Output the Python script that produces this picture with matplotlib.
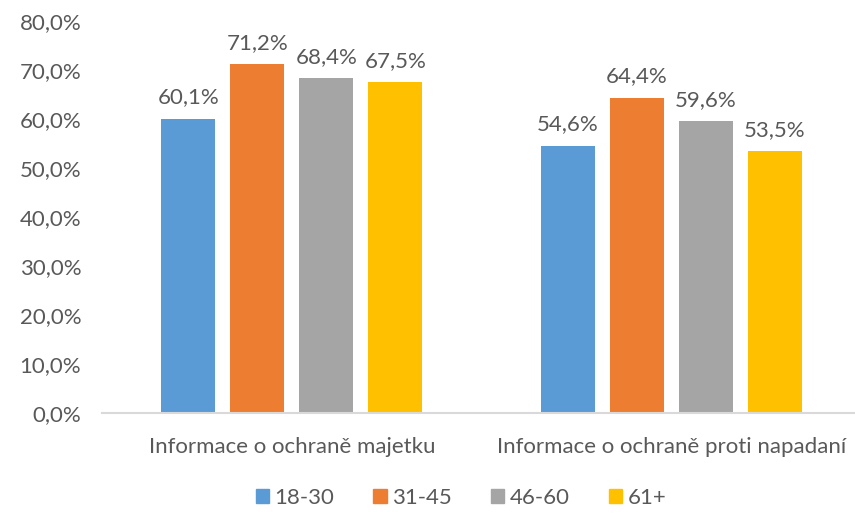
import matplotlib
matplotlib.use("Agg")
import matplotlib.pyplot as plt
from matplotlib.patches import Patch
import numpy as np

categories = ["Informace o ochraně majetku", "Informace o ochraně proti napadaní"]
series_names = ["18-30", "31-45", "46-60", "61+"]
values = {
    "18-30": [60.1, 54.6],
    "31-45": [71.2, 64.4],
    "46-60": [68.4, 59.6],
    "61+": [67.5, 53.5],
}
colors = ["#5B9BD5", "#ED7D31", "#A5A5A5", "#FFC000"]
yticks = [0, 10, 20, 30, 40, 50, 60, 70, 80]

plt.rcParams['font.family'] = ['Lato', 'DejaVu Sans']
txt = "#595959"
fs = 16

fig = plt.figure(figsize=(8.55, 5.15), dpi=100)
ax = fig.add_axes([102 / 855, 0.198, 759 / 855, 0.761])

x = np.arange(len(categories))
width = 0.142
step = 0.182
for i, name in enumerate(series_names):
    offs = (i - 1.5) * step
    ax.bar(x + offs, values[name], width=width, color=colors[i], zorder=2)
    for xi, v in zip(x + offs, values[name]):
        ax.annotate(f"{v:.1f}%".replace(".", ","), (xi, v), xytext=(0, 8),
                    textcoords="offset points", ha="center", va="bottom",
                    fontsize=fs, color=txt)

ax.set_xlim(-0.5, 1.5)
ax.set_ylim(0, 80)
ax.set_yticks(yticks)
ax.set_yticklabels([f"{t:.1f}%".replace(".", ",") for t in yticks], fontsize=fs, color=txt)
ax.set_xticks(x)
ax.set_xticklabels(categories, fontsize=fs, color=txt)
ax.tick_params(axis='both', length=0)
ax.tick_params(axis='y', pad=15)
ax.tick_params(axis='x', pad=17)
for s in ["top", "right", "left"]:
    ax.spines[s].set_visible(False)
ax.spines["bottom"].set_color("#D9D9D9")
ax.spines["bottom"].set_linewidth(1.5)

handles = [Patch(color=c) for c in colors]
fig.legend(handles, series_names, loc="center", bbox_to_anchor=(0.539, 0.033),
           ncol=4, frameon=False, fontsize=fs, labelcolor=txt,
           handlelength=0.6, handleheight=0.6, handletextpad=0.25, columnspacing=1.75)

fig.savefig("out.png", dpi=100)
